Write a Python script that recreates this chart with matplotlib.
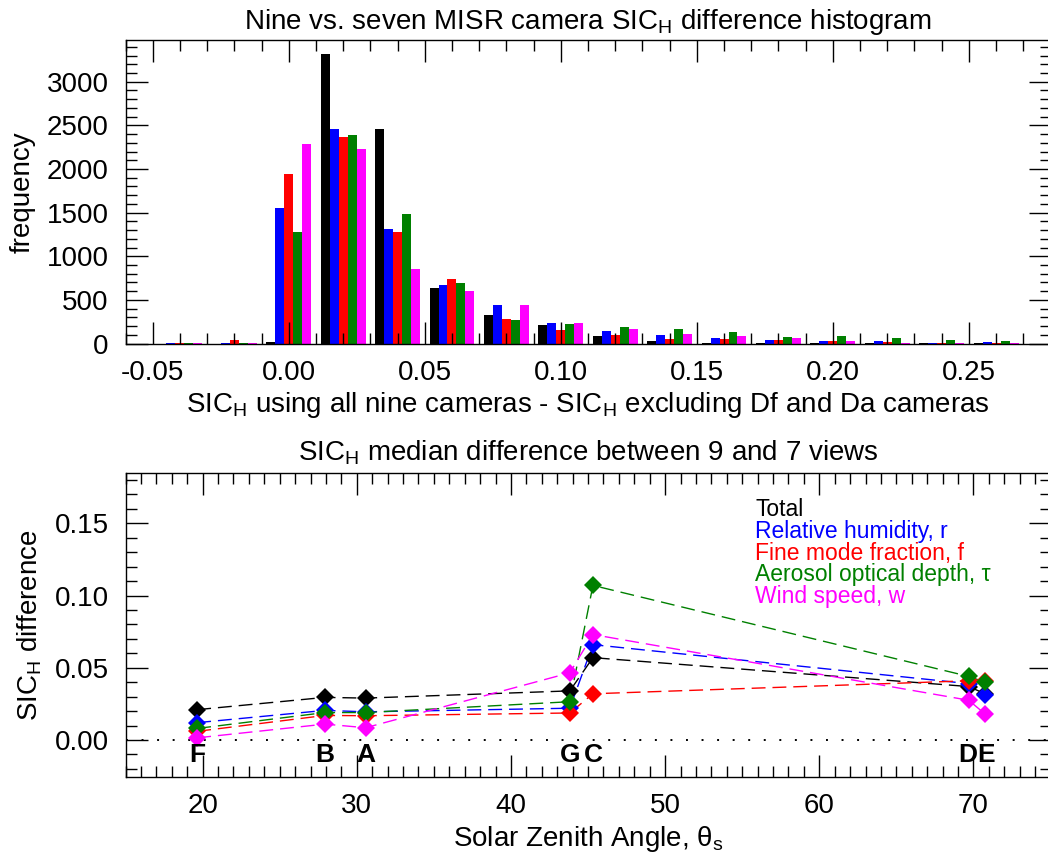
import numpy as np
import matplotlib
matplotlib.use("Agg")
import matplotlib.pyplot as plt
from matplotlib.ticker import MultipleLocator, FormatStrFormatter

plt.rcParams['font.family'] = ['Liberation Sans', 'DejaVu Sans']
plt.rcParams['mathtext.fontset'] = 'custom'
plt.rcParams['mathtext.rm'] = 'Liberation Sans'
plt.rcParams['mathtext.it'] = 'Liberation Sans:italic'
plt.rcParams['mathtext.bf'] = 'Liberation Sans:bold'

# histogram data (bin centres and counts per series)
bin_centers = [-0.04, -0.02, 0.00, 0.02, 0.04, 0.06, 0.08, 0.10, 0.12,
               0.14, 0.16, 0.18, 0.20, 0.22, 0.24, 0.26]
hist_total = [0, 0, 20, 3315, 2455, 635, 325, 215, 85, 25, 5, 3, 3, 2, 1, 1]
hist_rh = [3, 8, 1550, 2460, 1310, 675, 440, 230, 140, 92, 68, 38, 26, 26, 11, 15]
hist_fmf = [2, 40, 1940, 2365, 1275, 740, 285, 155, 95, 57, 46, 38, 26, 22, 8, 8]
hist_aod = [1, 2, 1275, 2390, 1485, 690, 270, 220, 185, 165, 130, 80, 85, 65, 42, 26]
hist_wind = [3, 3, 2290, 2230, 850, 600, 445, 235, 170, 107, 84, 61, 34, 11, 3, 2]

# median difference vs solar zenith angle
site_labels = ['F', 'B', 'A', 'G', 'C', 'D', 'E']
sza = [19.65, 27.94, 30.58, 43.82, 45.32, 69.7, 70.75]
med_total = [0.021, 0.0295, 0.029, 0.034, 0.057, 0.037, 0.032]
med_rh = [0.012, 0.0205, 0.0195, 0.022, 0.066, 0.039, 0.031]
med_fmf = [0.006, 0.017, 0.0168, 0.0187, 0.032, 0.041, 0.041]
med_aod = [0.008, 0.019, 0.019, 0.0265, 0.107, 0.044, 0.040]
med_wind = [0.0015, 0.011, 0.0085, 0.0465, 0.073, 0.0275, 0.018]

colors = ['black', '#0000ff', '#ff0000', '#008000', '#ff00ff']
names = ['Total', 'Relative humidity, r', 'Fine mode fraction, f',
         'Aerosol optical depth, \u03c4', 'Wind speed, w']

fig = plt.figure(figsize=(10.48, 8.58), dpi=100)


def style_axes(ax):
    ax.tick_params(which='both', direction='in', top=True, right=True,
                   labelsize=20, width=1.0, pad=12)
    ax.tick_params(which='major', length=15.5)
    ax.tick_params(which='minor', length=8)
    for s in ax.spines.values():
        s.set_linewidth(1.0)


# ---- top: histogram
ax1 = fig.add_axes([125.5 / 1048, (858 - 343.5) / 858, 925 / 1048, 303.5 / 858])
bw = 0.0033
hists = [hist_total, hist_rh, hist_fmf, hist_aod, hist_wind]
centers = np.array(bin_centers)
for i, (h, c) in enumerate(zip(hists, colors)):
    ax1.bar(centers + (i - 2) * bw, h, width=bw, color=c, linewidth=0)
ax1.set_xlim(-0.06, 0.28)
ax1.set_ylim(0, 3478)
ax1.xaxis.set_major_locator(MultipleLocator(0.05))
ax1.xaxis.set_minor_locator(MultipleLocator(0.01))
ax1.yaxis.set_major_locator(MultipleLocator(500))
ax1.yaxis.set_minor_locator(MultipleLocator(100))
ax1.xaxis.set_major_formatter(FormatStrFormatter('%.2f'))
style_axes(ax1)
ax1.set_title('Nine vs. seven MISR camera SIC$_\\mathrm{H}$ difference histogram',
              fontsize=20, pad=8)
ax1.set_xlabel('SIC$_\\mathrm{H}$ using all nine cameras - SIC$_\\mathrm{H}$ excluding Df and Da cameras',
               fontsize=20, labelpad=3)
ax1.set_ylabel('frequency', fontsize=20, labelpad=8)

# ---- bottom: median differences
ax2 = fig.add_axes([125.5 / 1048, (858 - 776.7) / 858, 925 / 1048, 303.4 / 858])
ax2.axhline(0, color='black', linestyle=(0, (1, 7)), linewidth=1.4)
meds = [med_total, med_rh, med_fmf, med_aod, med_wind]
for m, c in zip(meds, colors):
    ax2.plot(sza, m, color=c, linestyle=(0, (10, 5)), linewidth=1.0)
for m, c in zip(meds, colors):
    ax2.plot(sza, m, linestyle='none', marker='D', markersize=9.5,
             color=c, markeredgewidth=0)

# site letters; D and E sit shoulder to shoulder as "DE"
de_mid = (sza[5] + sza[6]) / 2
for lab, x in zip(site_labels, sza):
    ha = 'center'
    if lab == 'D':
        x, ha = de_mid, 'right'
    elif lab == 'E':
        x, ha = de_mid, 'left'
    ax2.text(x, -0.0152, lab, ha=ha, va='baseline', fontsize=19,
             fontweight='bold')

ax2.set_xlim(15, 75)
ax2.set_ylim(-0.0254, 0.1846)
ax2.xaxis.set_major_locator(MultipleLocator(10))
ax2.xaxis.set_minor_locator(MultipleLocator(1))
ax2.yaxis.set_major_locator(MultipleLocator(0.05))
ax2.yaxis.set_minor_locator(MultipleLocator(0.01))
ax2.yaxis.set_major_formatter(FormatStrFormatter('%.2f'))
style_axes(ax2)
ax2.set_title('SIC$_\\mathrm{H}$ median difference between 9 and 7 views',
              fontsize=20, pad=9)
ax2.set_xlabel('Solar Zenith Angle, \u03b8$_\\mathrm{s}$', fontsize=20, labelpad=3)
ax2.set_ylabel('SIC$_\\mathrm{H}$ difference', fontsize=20, labelpad=8)

for i, (n, c) in enumerate(zip(names, colors)):
    ax2.text(0.681, 0.881 - i * 0.0719, n, color=c, fontsize=16.5,
             transform=ax2.transAxes, ha='left', va='center')

fig.savefig('out.png', dpi=100)
